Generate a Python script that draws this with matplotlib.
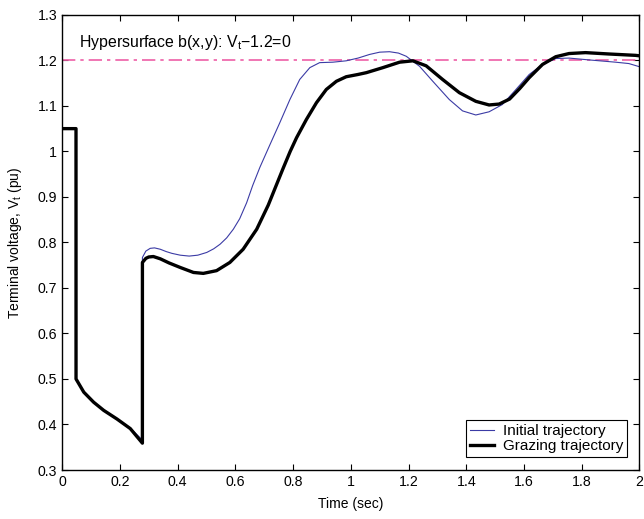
import matplotlib
matplotlib.use("Agg")
import matplotlib.pyplot as plt

plt.rcParams['font.family'] = ['Liberation Sans', 'DejaVu Sans']

# Initial trajectory (thin blue)
t_init = [0, 0.048, 0.0481, 0.075, 0.109, 0.144, 0.19, 0.236, 0.278, 0.2781, 0.29, 0.305,
          0.32, 0.34, 0.36, 0.38, 0.409, 0.44, 0.47, 0.501, 0.525, 0.547, 0.57, 0.593, 0.615,
          0.639, 0.66, 0.685, 0.72, 0.754, 0.789, 0.823, 0.858, 0.892, 0.938, 0.984, 1.025,
          1.065, 1.10, 1.134, 1.165, 1.192, 1.238, 1.284, 1.341, 1.387, 1.433, 1.479, 1.525,
          1.572, 1.618, 1.664, 1.71, 1.756, 1.825, 1.917, 1.963, 2.0]
v_init = [1.05, 1.05, 0.5, 0.471, 0.449, 0.431, 0.412, 0.392, 0.366, 0.767, 0.781, 0.787,
          0.788, 0.785, 0.780, 0.776, 0.772, 0.770, 0.772, 0.778, 0.786, 0.796, 0.810, 0.829, 0.852,
          0.887, 0.925, 0.965, 1.015, 1.063, 1.114, 1.158, 1.184, 1.195, 1.196, 1.199, 1.205,
          1.213, 1.218, 1.219, 1.216, 1.209, 1.187, 1.154, 1.114, 1.089, 1.080, 1.087, 1.103,
          1.136, 1.169, 1.191, 1.204, 1.205, 1.201, 1.196, 1.193, 1.186]

# Grazing trajectory (thick black)
t_graz = [0, 0.048, 0.0481, 0.075, 0.109, 0.144, 0.19, 0.236, 0.278, 0.2781, 0.29, 0.30,
          0.316, 0.34, 0.37, 0.409, 0.455, 0.489, 0.535, 0.581, 0.627, 0.674, 0.714, 0.735,
          0.765, 0.79, 0.812, 0.846, 0.881, 0.915, 0.95, 0.984, 1.025, 1.054, 1.111, 1.169,
          1.215, 1.261, 1.318, 1.376, 1.433, 1.479, 1.514, 1.55, 1.585, 1.618, 1.664, 1.71,
          1.756, 1.813, 1.894, 1.986, 2.0]
v_graz = [1.05, 1.05, 0.5, 0.471, 0.449, 0.431, 0.412, 0.391, 0.359, 0.756, 0.765, 0.768,
          0.769, 0.764, 0.755, 0.745, 0.734, 0.732, 0.738, 0.756, 0.785, 0.829, 0.882, 0.915,
          0.962, 1.000, 1.030, 1.070, 1.107, 1.136, 1.154, 1.164, 1.169, 1.173, 1.184, 1.196,
          1.199, 1.188, 1.158, 1.129, 1.110, 1.102, 1.104, 1.115, 1.138, 1.162, 1.191, 1.208,
          1.215, 1.217, 1.214, 1.211, 1.210]

limit = 1.2
x_ticks = [0, 0.2, 0.4, 0.6, 0.8, 1, 1.2, 1.4, 1.6, 1.8, 2]
x_tick_labels = ["0", "0.2", "0.4", "0.6", "0.8", "1", "1.2", "1.4", "1.6", "1.8", "2"]
y_ticks = [0.3, 0.4, 0.5, 0.6, 0.7, 0.8, 0.9, 1.0, 1.1, 1.2, 1.3]
y_tick_labels = ["0.3", "0.4", "0.5", "0.6", "0.7", "0.8", "0.9", "1", "1.1", "1.2", "1.3"]

fig = plt.figure(figsize=(6.44, 5.19), dpi=100)
ax = fig.add_axes([0.0965, 0.0944, 0.8965, 0.877])

ax.axhline(limit, color='#ee5fa7', lw=1.2, ls='-.', dashes=(8, 3, 2, 3))
ax.plot(t_init, v_init, color='#3b3ba5', lw=0.8, label="Initial trajectory",
        solid_joinstyle='round')
ax.plot(t_graz, v_graz, color='black', lw=2.4, label="Grazing trajectory",
        solid_joinstyle='round')

ax.text(0.06, 1.24, "Hypersurface b(x,y): V$_\\mathregular{t}$\u22121.2=0", fontsize=11.4,
        va='center', ha='left')

ax.set_xlim(0, 2)
ax.set_ylim(0.3, 1.3)
ax.set_xticks(x_ticks)
ax.set_xticklabels(x_tick_labels)
ax.set_yticks(y_ticks)
ax.set_yticklabels(y_tick_labels)
ax.tick_params(direction='in', top=True, right=True, labelsize=10.2, length=4)
for s in ax.spines.values():
    s.set_linewidth(1.0)

ax.set_xlabel("Time (sec)", fontsize=10, labelpad=6)
ax.set_ylabel("Terminal voltage, V$_\\mathregular{t}$ (pu)", fontsize=10, labelpad=10)

leg = ax.legend(loc='lower right', bbox_to_anchor=(0.979, 0.029), borderaxespad=0,
                fontsize=11, fancybox=False, framealpha=1, edgecolor='black',
                borderpad=0.25, handlelength=1.6, handletextpad=0.6, labelspacing=0.05)
leg.get_frame().set_linewidth(0.8)

fig.savefig("out.png", dpi=100)
